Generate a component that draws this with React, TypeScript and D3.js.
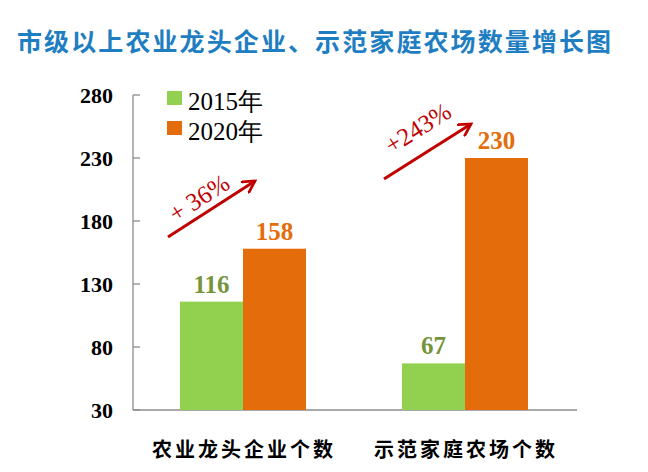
import React from "react";
import * as d3 from "d3";

const categories = ["农业龙头企业个数", "示范家庭农场个数"];
const seriesNames = ["2015年", "2020年"];
const values2015 = [116, 67];
const values2020 = [158, 230];
const growthLabels = ["+ 36%", "+243%"];
const yTicks = [30, 80, 130, 180, 230, 280];
const title = "市级以上农业龙头企业、示范家庭农场数量增长图";

const barColors = ["#92D050", "#E46C0A"];
const labelColors = ["#77933C", "#E46C0A"];
const arrowColor = "#C00000";

export default function App() {
  const W = 648, H = 472;
  const left = 133, right = 577, top = 95, bottom = 410;
  const y = d3.scaleLinear().domain([30, 280]).range([bottom, top]);
  const x0 = d3.scaleBand<string>().domain(categories).range([left, right]).paddingInner(0).paddingOuter(0);
  const bw = 63;
  const centers = categories.map((c) => (x0(c) as number) + x0.bandwidth() / 2 - 1);
  const series = [values2015, values2020];

  return (
    <svg width={W} height={H} style={{ position: "absolute", left: 0, top: 0 }}>
      <defs>
        <marker id="ah" viewBox="0 0 12 12" refX="10" refY="6" markerWidth="5" markerHeight="5" orient="auto" markerUnits="strokeWidth">
          <path d="M1,1 L10,6 L1,11" fill="none" stroke={arrowColor} strokeWidth={2.2} strokeLinecap="round" strokeLinejoin="miter" />
        </marker>
      </defs>
      <rect width={W} height={H} fill="#fff" />
      <text x={17} y={51} fontFamily="'Noto Sans CJK SC'" fontWeight={700} fontSize={25} letterSpacing={2.1} fill="#1F7EC2">
        {title}
      </text>
      {/* axes */}
      <line x1={left} x2={left} y1={top} y2={bottom} stroke="#8C8C8C" strokeWidth={1.3} />
      <line x1={left} x2={right} y1={bottom} y2={bottom} stroke="#8C8C8C" strokeWidth={1.3} />
      {yTicks.map((t) => (
        <g key={t}>
          <line x1={left} x2={left + 7} y1={y(t)} y2={y(t)} stroke="#8C8C8C" strokeWidth={1.3} />
          <text x={113} y={y(t) + 8} textAnchor="end" fontFamily="'Liberation Serif'" fontWeight={700} fontSize={22} fill="#000">
            {t}
          </text>
        </g>
      ))}
      {/* bars */}
      {categories.map((c, i) => (
        <g key={c}>
          {series.map((s, j) => {
            const bx = centers[i] - bw + j * bw;
            return (
              <g key={j}>
                <rect x={bx} y={y(s[i])} width={bw} height={bottom - y(s[i])} fill={barColors[j]} />
                <text x={bx + bw / 2} y={y(s[i]) - 9} textAnchor="middle" fontFamily="'Liberation Serif'" fontWeight={700} fontSize={25} fill={labelColors[j]}>
                  {s[i]}
                </text>
              </g>
            );
          })}
          <text x={centers[i] + 1} y={457} textAnchor="middle" fontFamily="'Noto Sans CJK SC'" fontWeight={700} fontSize={20} letterSpacing={3} fill="#000">
            {c}
          </text>
        </g>
      ))}
      {/* legend */}
      {seriesNames.map((n, j) => (
        <g key={n}>
          <rect x={167} y={91 + j * 30} width={15} height={14} fill={barColors[j]} />
          <text x={188} y={110 + j * 30} fontFamily="'Liberation Serif'" fontSize={25} fill="#000">
            {n}
          </text>
        </g>
      ))}
      {/* arrows */}
      {[
        { x1: 168, y1: 237, x2: 257, y2: 180, tx: 199, ty: 198 },
        { x1: 384, y1: 179, x2: 473, y2: 123, tx: 418, ty: 128 },
      ].map((a, i) => {
        const ang = (Math.atan2(a.y2 - a.y1, a.x2 - a.x1) * 180) / Math.PI;
        return (
          <g key={i}>
            <line x1={a.x1} y1={a.y1} x2={a.x2 - 2} y2={a.y2 + 1} stroke={arrowColor} strokeWidth={3} markerEnd="url(#ah)" />
            <text x={a.tx} y={a.ty} transform={`rotate(${ang} ${a.tx} ${a.ty})`} textAnchor="middle" dominantBaseline="central" fontFamily="'Liberation Serif'" fontSize={25} fill={arrowColor}>
              {growthLabels[i]}
            </text>
          </g>
        );
      })}
    </svg>
  );
}
